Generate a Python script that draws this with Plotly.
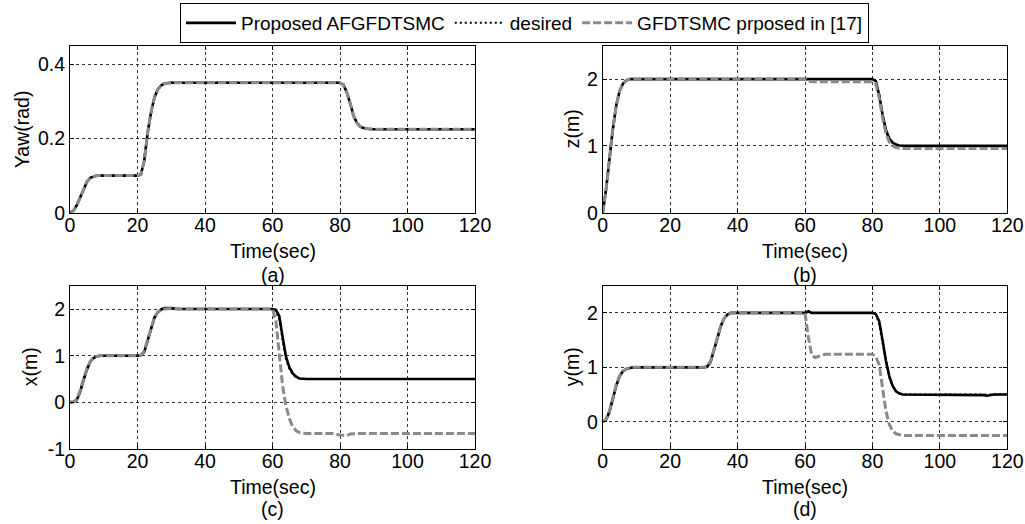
import plotly.graph_objects as go

# ---------------- data ----------------
# (a) Yaw
t_yaw = [0, 1, 2, 3, 4, 5, 6, 7, 8, 10, 20, 21, 22, 23, 24, 25, 26, 27, 28, 30,
         80, 81, 82, 83, 84, 85, 86, 87, 88, 90, 120]
yaw_desired = [0, 0.005, 0.02, 0.042, 0.065, 0.083, 0.094, 0.098, 0.1, 0.1, 0.1, 0.103, 0.14, 0.215,
               0.27, 0.31, 0.332, 0.343, 0.348, 0.35,
               0.35, 0.345, 0.325, 0.295, 0.262, 0.242, 0.232, 0.228, 0.226, 0.225, 0.225]
yaw_proposed = [0, 0.005, 0.02, 0.042, 0.065, 0.083, 0.094, 0.098, 0.1, 0.1, 0.1, 0.103, 0.14, 0.215,
                0.27, 0.31, 0.332, 0.343, 0.348, 0.35,
                0.35, 0.345, 0.325, 0.295, 0.262, 0.242, 0.232, 0.228, 0.226, 0.225, 0.225]
yaw_gfd = [0, 0.005, 0.02, 0.042, 0.065, 0.083, 0.094, 0.098, 0.1, 0.1, 0.1, 0.103, 0.14, 0.215,
           0.27, 0.31, 0.332, 0.343, 0.348, 0.35,
           0.35, 0.345, 0.325, 0.295, 0.262, 0.242, 0.232, 0.228, 0.226, 0.225, 0.225]

# (b) z
t_z = [0, 1, 2, 3, 4, 5, 6, 7, 8, 10, 60, 61, 62, 80, 81, 82, 83, 84, 85, 86, 87, 88, 90, 120]
z_desired = [0, 0.35, 0.8, 1.25, 1.6, 1.82, 1.93, 1.98, 2.0, 2.0, 2.0, 2.0, 2.0,
             2.0, 1.97, 1.75, 1.45, 1.22, 1.1, 1.04, 1.015, 1.005, 1.0, 1.0]
z_proposed = [0, 0.35, 0.8, 1.25, 1.6, 1.82, 1.93, 1.98, 2.0, 2.0, 2.0, 2.0, 2.0,
              2.0, 1.97, 1.76, 1.47, 1.24, 1.11, 1.05, 1.02, 1.005, 1.0, 1.0]
z_gfd = [0, 0.35, 0.8, 1.25, 1.6, 1.82, 1.93, 1.98, 2.0, 2.0, 2.0, 1.97, 1.96,
         1.96, 1.93, 1.72, 1.42, 1.19, 1.06, 1.0, 0.975, 0.965, 0.96, 0.96]

# (c) x
t_x = [0, 1, 2, 3, 4, 5, 6, 7, 8, 9, 20, 21, 22, 23, 24, 25, 26, 27, 28, 30, 32,
       60, 61, 62, 63, 64, 65, 66, 67, 68, 70, 78, 80, 82, 83, 85, 120]
x_desired = [0, 0.01, 0.06, 0.25, 0.5, 0.72, 0.88, 0.96, 0.99, 1.0, 1.0, 1.01, 1.1, 1.35, 1.62,
             1.82, 1.93, 1.98, 2.0, 2.0, 2.0,
             2.0, 1.96, 1.78, 1.32, 0.92, 0.72, 0.6, 0.54, 0.51, 0.5, 0.5, 0.5, 0.5, 0.5, 0.5, 0.5]
x_proposed = [0, 0.01, 0.05, 0.22, 0.47, 0.7, 0.87, 0.95, 0.99, 1.0, 1.0, 1.01, 1.08, 1.32, 1.6,
              1.81, 1.93, 1.99, 2.02, 2.02, 2.0,
              2.0, 1.98, 1.85, 1.4, 0.98, 0.75, 0.62, 0.55, 0.51, 0.5, 0.5, 0.5, 0.5, 0.5, 0.5, 0.5]
x_gfd = [0, 0.01, 0.06, 0.25, 0.5, 0.72, 0.88, 0.96, 0.99, 1.0, 1.0, 1.01, 1.1, 1.35, 1.62,
         1.82, 1.93, 1.98, 2.0, 2.01, 2.0,
         2.0, 1.75, 1.0, 0.35, -0.08, -0.35, -0.52, -0.61, -0.65, -0.67, -0.67, -0.7, -0.71, -0.68,
         -0.67, -0.67]

# (d) y
t_y = [0, 1, 2, 3, 4, 5, 6, 7, 8, 9, 30, 31, 32, 33, 34, 35, 36, 37, 38, 40,
       60, 61, 62, 63, 64, 66, 80, 81, 82, 83, 84, 85, 86, 87, 88, 89, 90,
       112, 113, 114, 115, 116, 120]
y_desired = [0, 0.05, 0.2, 0.45, 0.68, 0.84, 0.93, 0.97, 0.99, 1.0, 1.0, 1.02, 1.12, 1.32, 1.55,
             1.76, 1.9, 1.97, 2.0, 2.0,
             2.0, 2.0, 2.0, 2.0, 2.0, 2.0, 2.0, 1.97, 1.8, 1.45, 1.1, 0.82, 0.65, 0.56, 0.52, 0.5, 0.5,
             0.5, 0.5, 0.5, 0.5, 0.5, 0.5]
y_proposed = [0, 0.04, 0.18, 0.43, 0.66, 0.83, 0.93, 0.97, 0.99, 1.0, 1.0, 1.01, 1.1, 1.3, 1.53,
              1.75, 1.9, 1.97, 2.0, 2.0,
              2.0, 2.03, 2.0, 2.0, 2.0, 2.0, 2.0, 1.98, 1.85, 1.5, 1.12, 0.84, 0.66, 0.56, 0.52, 0.5, 0.5,
              0.5, 0.49, 0.48, 0.485, 0.5, 0.5]
y_gfd = [0, 0.05, 0.2, 0.45, 0.68, 0.84, 0.93, 0.97, 0.99, 1.0, 1.0, 1.02, 1.12, 1.32, 1.55,
         1.76, 1.9, 1.97, 2.0, 2.0,
         2.0, 1.55, 1.22, 1.18, 1.2, 1.24, 1.24, 1.2, 1.05, 0.6, 0.2, -0.05, -0.17, -0.22, -0.24, -0.25,
         -0.25, -0.25, -0.25, -0.25, -0.25, -0.25, -0.25]

x_ticks = [0, 20, 40, 60, 80, 100, 120]
panels = [
    # (time, proposed, desired, gfd, y range, y ticks, y tick text, ylabel, letter)
    (t_yaw, yaw_proposed, yaw_desired, yaw_gfd, [0, 0.45], [0, 0.2, 0.4], ["0", "0.2", "0.4"], "Yaw(rad)", "(a)"),
    (t_z, z_proposed, z_desired, z_gfd, [0, 2.5], [0, 1, 2], ["0", "1", "2"], "z(m)", "(b)"),
    (t_x, x_proposed, x_desired, x_gfd, [-1, 2.5], [-1, 0, 1, 2], ["-1", "0", "1", "2"], "x(m)", "(c)"),
    (t_y, y_proposed, y_desired, y_gfd, [-0.5, 2.5], [0, 1, 2], ["0", "1", "2"], "y(m)", "(d)"),
]
names = ["Proposed AFGFDTSMC", "desired", "GFDTSMC prposed in [17]"]

# ---------------- layout geometry ----------------
W, H = 1025, 524
FONT = "Liberation Sans, Arial, sans-serif"
BLACK = "#000000"
GRAY = "#8a8a8a"
FS = 19.5

x_doms = [(70, 475), (602.7, 1007.3), (70, 475), (602.7, 1007.3)]
y_doms = [(45.7, 212.7), (45.7, 212.7), (285.7, 449), (285.7, 449)]
ylab_x = [22, 572, 30, 572]
xtitle_y = [251, 251, 487, 487]
letter_y = [275, 275, 509, 509]

fig = go.Figure()
layout = {}
annotations = []

for i, (t, prop, des, gfd, yr, yt, ytt, ylab, letter) in enumerate(panels):
    n = "" if i == 0 else str(i + 1)
    xa, ya = "x" + n, "y" + n
    show = i == 0
    fig.add_trace(go.Scatter(x=t, y=des, xaxis=xa, yaxis=ya, mode="lines", name=names[1],
                             legendgroup="d", showlegend=show, legendrank=2,
                             line=dict(color=BLACK, width=2, dash="2px,3px")))
    fig.add_trace(go.Scatter(x=t, y=prop, xaxis=xa, yaxis=ya, mode="lines", name=names[0],
                             legendgroup="p", showlegend=show, legendrank=1,
                             line=dict(color=BLACK, width=2.6)))
    fig.add_trace(go.Scatter(x=t, y=gfd, xaxis=xa, yaxis=ya, mode="lines", name=names[2],
                             legendgroup="g", showlegend=show, legendrank=3,
                             line=dict(color=GRAY, width=3, dash="8px,3px")))

    x0, x1 = x_doms[i]
    yt0, yb0 = y_doms[i]
    axis_common = dict(showline=True, linecolor=BLACK, linewidth=1, mirror="ticks",
                       ticks="inside", ticklen=4, tickcolor=BLACK,
                       showgrid=True, gridcolor="#333333", gridwidth=1, griddash="dot",
                       zeroline=False, tickfont=dict(family=FONT, size=FS, color=BLACK))
    layout["xaxis" + n] = dict(axis_common, domain=[x0 / W, x1 / W], range=[0, 120],
                               tickmode="array", tickvals=x_ticks, ticklabelstandoff=-5,
                               ticktext=[str(v) for v in x_ticks], anchor=ya)
    layout["yaxis" + n] = dict(axis_common, domain=[(H - yb0) / H, (H - yt0) / H], range=yr,
                               tickmode="array", tickvals=yt, ticktext=ytt, anchor=xa)

    cx = (x0 + x1) / 2 / W
    annotations.append(dict(text="Time(sec)", x=cx, y=(H - xtitle_y[i]) / H, xref="paper", yref="paper",
                            showarrow=False, xanchor="center", yanchor="middle",
                            font=dict(family=FONT, size=FS, color=BLACK)))
    annotations.append(dict(text=letter, x=cx, y=(H - letter_y[i]) / H, xref="paper", yref="paper",
                            showarrow=False, xanchor="center", yanchor="middle",
                            font=dict(family=FONT, size=FS, color=BLACK)))
    annotations.append(dict(text=ylab, x=ylab_x[i] / W, y=(H - (yt0 + yb0) / 2) / H,
                            xref="paper", yref="paper", textangle=-90,
                            showarrow=False, xanchor="center", yanchor="middle",
                            font=dict(family=FONT, size=FS, color=BLACK)))

fig.update_layout(
    width=W, height=H,
    margin=dict(l=0, r=0, t=0, b=0, pad=0, autoexpand=False),
    paper_bgcolor="white", plot_bgcolor="white",
    annotations=annotations,
    legend=dict(orientation="h", x=524.5 / W, xanchor="center", y=1 - 3 / H, yanchor="top",
                bgcolor="white", bordercolor=BLACK, borderwidth=1,
                font=dict(family=FONT, size=19, color=BLACK),
                itemwidth=50, tracegroupgap=0, traceorder="normal"),
    **layout,
)

fig.write_html("out.html", config={"displayModeBar": False},
               post_script="document.body.style.margin='0px';document.body.style.overflow='hidden';")
